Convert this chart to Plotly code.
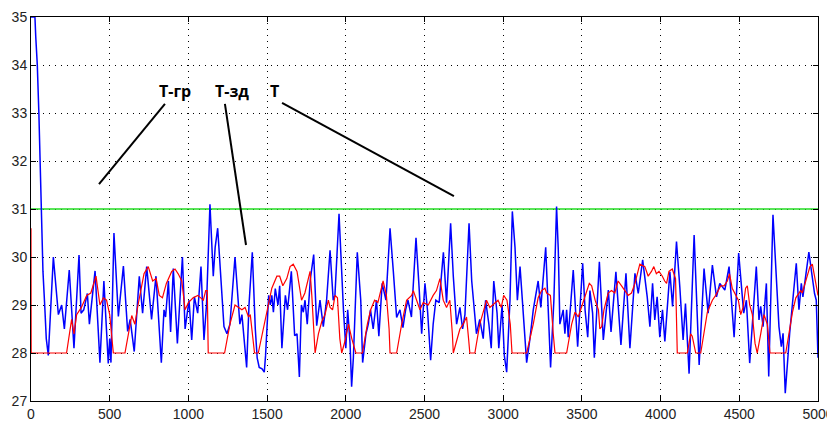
import plotly.graph_objects as go

# ---- data ----
blue_x = [0, 25, 30, 40, 50, 60, 66, 76, 87, 97, 110, 142, 174, 195, 212, 243, 273, 305, 318, 335,
          358, 371, 407, 438, 463, 478, 491, 500, 508, 527, 555, 587, 614, 630, 656, 688, 709, 735,
          766, 794, 828, 845, 855, 873, 887, 904, 930, 962, 979, 1004, 1021, 1038, 1059, 1080, 1099,
          1115, 1137, 1158, 1170, 1186, 1211, 1226, 1245, 1264, 1296, 1327, 1340, 1370, 1385, 1406,
          1425, 1437, 1450, 1468, 1482, 1490, 1510, 1520, 1530, 1540, 1552, 1569, 1580, 1594, 1616,
          1630, 1654, 1675, 1690, 1705, 1718, 1730, 1741, 1755, 1775, 1796, 1815, 1836, 1857, 1878,
          1900, 1920, 1931, 1957, 1985, 2000, 2012, 2027, 2037, 2048, 2073, 2095, 2107, 2128, 2143,
          2157, 2174, 2195, 2210, 2231, 2255, 2281, 2302, 2323, 2344, 2363, 2380, 2395, 2417, 2446,
          2465, 2482, 2503, 2520, 2539, 2555, 2572, 2593, 2620, 2640, 2666, 2683, 2704, 2725, 2742,
          2757, 2783, 2800, 2830, 2851, 2873, 2888, 2909, 2924, 2940, 2961, 2972, 2993, 3007, 3022,
          3043, 3058, 3075, 3090, 3107, 3124, 3149, 3170, 3191, 3222, 3239, 3270, 3290, 3301, 3322,
          3339, 3350, 3360, 3381, 3392, 3403, 3413, 3445, 3473, 3505, 3520, 3537, 3551, 3568, 3579,
          3611, 3636, 3668, 3685, 3716, 3748, 3780, 3805, 3837, 3858, 3886, 3915, 3932, 3949, 3963,
          3978, 3995, 4012, 4027, 4059, 4076, 4101, 4122, 4143, 4158, 4181, 4213, 4245, 4276, 4302,
          4329, 4355, 4376, 4408, 4435, 4467, 4496, 4528, 4545, 4566, 4608, 4625, 4636, 4651, 4672,
          4687, 4714, 4752, 4767, 4778, 4792, 4820, 4862, 4879, 4894, 4904, 4942, 4978, 4989, 5000]
blue_y = [35, 35, 34.6, 34.0, 33.0, 31.5, 30.6, 29.7, 29.0, 28.3, 27.95, 30.0, 28.8, 29.0, 28.5, 29.73,
          28.1, 30.04, 28.83, 28.9, 29.24, 28.6, 29.71, 27.8, 29.5, 28.4, 27.78, 28.3, 27.8, 30.5,
          28.76, 29.81, 28.45, 28.7, 28.03, 29.6, 28.83, 29.8, 28.7, 29.6, 27.8, 28.9, 28.75, 29.5,
          28.44, 29.76, 28.2, 30.0, 28.5, 29.1, 28.27, 29.17, 28.83, 29.8, 28.27, 29.0, 31.1, 29.6,
          30.2, 30.6, 29.4, 28.55, 28.4, 28.6, 30.0, 28.6, 28.8, 27.7, 29.0, 30.1, 28.5, 27.9, 27.7,
          27.67, 27.6, 27.94, 29.2, 29.0, 29.2, 28.85, 29.34, 29.0, 29.4, 28.1, 29.2, 28.9, 29.7,
          28.36, 28.4, 27.5, 29.0, 28.85, 29.1, 28.6, 29.55, 30.05, 28.57, 29.1, 28.55, 29.1, 30.14,
          29.1, 29.2, 30.9, 28.9, 28.1, 28.9, 28.2, 27.3, 27.9, 30.1, 29.1, 27.8, 28.4, 28.6, 28.9,
          28.5, 29.1, 28.35, 29.45, 29.1, 30.6, 29.7, 28.74, 28.9, 28.53, 28.9, 29.1, 28.75, 30.4,
          29.4, 28.4, 29.45, 28.85, 27.85, 28.6, 29.1, 29.05, 30.1, 29.05, 30.7, 29.6, 28.6, 28.95,
          28.5, 28.8, 30.7, 29.5, 28.4, 28.7, 28.3, 29.1, 28.6, 28.1, 29.5, 28.83, 28.1, 29.0, 27.95,
          27.6, 29.1, 30.95, 30.2, 29.1, 29.8, 28.9, 27.8, 28.3, 28.9, 29.5, 28.95, 30.2, 28.75, 27.7,
          29.1, 31.05, 30.15, 28.6, 28.9, 28.4, 28.9, 28.33, 29.73, 28.13, 29.87, 28.9, 28.33, 29.3,
          28.83, 27.9, 29.9, 28.27, 29.31, 28.44, 29.69, 28.17, 29.66, 28.1, 29.66, 29.24, 29.94,
          29.17, 28.55, 29.45, 28.69, 29.17, 28.33, 28.9, 28.24, 29.69, 28.97, 30.32, 29.38, 28.27,
          29.03, 27.57, 30.46, 27.75, 29.76, 28.83, 29.83, 29.17, 29.45, 29.31, 29.8, 28.33, 30.08,
          28.83, 29.1, 27.79, 29.8, 28.69, 28.97, 28.55, 29.45, 27.51, 30.88, 28.55, 28.13, 28.41,
          27.16, 28.41, 29.87, 28.9, 29.45, 29.17, 30.1, 29.24, 29.1, 27.9]

red_x = [0, 1, 226, 258, 273, 290, 320, 354, 380, 413, 438, 460, 480, 500, 523, 597, 640, 660, 680,
         718, 745, 773, 795, 815, 835, 860, 894, 915, 935, 958, 979, 1000, 1030, 1060, 1095, 1110,
         1120, 1126, 1230, 1264, 1296, 1318, 1340, 1360, 1382, 1393, 1405, 1420, 1444, 1470, 1498,
         1530, 1562, 1580, 1600, 1625, 1646, 1666, 1690, 1719, 1740, 1773, 1784, 1794, 1805, 1826,
         1847, 1868, 1889, 1900, 1916, 1932, 1947, 1962, 1974, 1995, 2017, 2038, 2053, 2064, 2106,
         2137, 2158, 2183, 2204, 2237, 2258, 2275, 2281, 2323, 2355, 2386, 2418, 2429, 2450, 2471,
         2492, 2524, 2555, 2576, 2598, 2619, 2640, 2661, 2677, 2683, 2704, 2725, 2746, 2767, 2780,
         2788, 2820, 2851, 2873, 2894, 2915, 2946, 2967, 2988, 3003, 3024, 3034, 3045, 3056, 3149,
         3170, 3191, 3222, 3244, 3265, 3276, 3300, 3308, 3318, 3329, 3403, 3435, 3456, 3477, 3498,
         3530, 3547, 3562, 3584, 3605, 3614, 3626, 3640, 3667, 3688, 3709, 3730, 3752, 3773, 3794,
         3815, 3837, 3868, 3900, 3921, 3942, 3957, 3973, 3990, 4011, 4026, 4038, 4053, 4074, 4095,
         4106, 4170, 4191, 4201, 4212, 4223, 4255, 4276, 4297, 4329, 4350, 4382, 4403, 4424, 4438,
         4455, 4477, 4494, 4509, 4524, 4540, 4551, 4566, 4583, 4600, 4614, 4636, 4657, 4678, 4695,
         4795, 4817, 4838, 4859, 4890, 4900, 4928, 4949, 4964, 4977, 5000]
red_y = [30.6, 28.0, 28.0, 28.7, 28.4, 28.8, 28.95, 29.2, 29.25, 29.6, 29.0, 29.15, 29.1, 28.8, 28.0,
         28.0, 28.78, 28.6, 29.0, 29.65, 29.8, 29.5, 29.55, 29.2, 29.15, 29.45, 29.7, 29.75, 29.65,
         29.5, 28.9, 29.05, 29.15, 29.2, 29.1, 29.3, 29.3, 28.0, 28.0, 28.6, 29.0, 28.95, 28.9,
         28.95, 28.75, 28.8, 28.4, 28.0, 28.0, 28.4, 28.8, 29.35, 29.6, 29.6, 29.4, 29.55, 29.8,
         29.85, 29.7, 29.1, 29.25, 29.7, 29.2, 28.6, 28.0, 28.4, 28.65, 28.8, 29.1, 28.95, 28.9,
         29.2, 29.15, 28.3, 28.0, 28.25, 28.6, 28.3, 28.1, 28.0, 28.0, 28.6, 28.9, 29.1, 29.05,
         29.5, 29.2, 28.5, 28.0, 28.0, 28.6, 29.1, 29.2, 29.3, 29.1, 28.9, 29.05, 29.0, 29.2, 29.3,
         29.55, 29.1, 28.95, 29.1, 28.4, 28.0, 28.25, 28.5, 28.6, 28.75, 28.3, 28.0, 28.0, 28.6,
         28.85, 29.1, 28.95, 29.05, 29.1, 28.95, 29.2, 29.1, 28.9, 28.6, 28.0, 28.0, 28.3, 28.6,
         29.15, 29.3, 29.35, 29.25, 29.2, 28.75, 28.4, 28.0, 28.0, 28.6, 28.85, 28.75, 28.95, 29.3,
         29.45, 29.4, 29.1, 28.9, 28.5, 28.55, 28.9, 29.25, 29.3, 29.25, 29.5, 29.4, 29.3, 29.2,
         29.25, 29.45, 29.85, 29.8, 29.6, 29.7, 29.8, 29.65, 29.7, 29.6, 29.5, 29.45, 29.7, 29.75,
         29.55, 28.0, 28.0, 28.4, 28.35, 28.15, 28.0, 28.0, 28.45, 28.85, 29.1, 29.2, 29.4, 29.4,
         29.5, 29.65, 29.35, 29.2, 29.1, 28.8, 28.95, 29.35, 29.4, 29.0, 28.8, 28.2, 28.0, 28.4,
         28.8, 28.6, 28.0, 28.0, 28.45, 28.85, 29.15, 29.3, 29.25, 29.55, 29.8, 29.85, 29.6, 29.2]

limit_x = [0, 5000]
limit_y = [31, 31]

x_ticks = [0, 500, 1000, 1500, 2000, 2500, 3000, 3500, 4000, 4500, 5000]
y_ticks = [27, 28, 29, 30, 31, 32, 33, 34, 35]

labels = ["T-гр", "T-зд", "T"]
label_x = [915, 1277, 1550]
label_y = [33.46, 33.46, 33.46]
# pointer lines: (x0, y0, x1, y1)
pointers = [(851, 33.19, 432, 31.52), (1232, 33.19, 1366, 30.25), (1595, 33.21, 2687, 31.27)]

fig = go.Figure()
fig.add_trace(go.Scatter(x=limit_x, y=limit_y, mode="lines",
                         line=dict(color="#22dd22", width=1.5), showlegend=False))
fig.add_trace(go.Scatter(x=blue_x, y=blue_y, mode="lines",
                         line=dict(color="#0000ff", width=1.5), showlegend=False))
fig.add_trace(go.Scatter(x=red_x, y=red_y, mode="lines",
                         line=dict(color="#ff0000", width=1.2), showlegend=False))

for (x0, y0, x1, y1) in pointers:
    fig.add_shape(type="line", x0=x0, y0=y0, x1=x1, y1=y1, xref="x", yref="y",
                  line=dict(color="black", width=2))
for t, x, y in zip(labels, label_x, label_y):
    fig.add_annotation(x=x, y=y, text="<b>" + t + "</b>", showarrow=False, xref="x", yref="y",
                       font=dict(family="Open Sans, Noto Sans, sans-serif", size=16, color="black"))

axis_common = dict(showline=True, linecolor="black", linewidth=1, mirror="ticks",
                   ticks="inside", ticklen=5, tickcolor="black", automargin=False,
                   showgrid=True, gridcolor="black", gridwidth=1, griddash="1px,5px",
                   zeroline=False,
                   tickfont=dict(family="Liberation Sans, Arial, sans-serif", size=14, color="#222222"))
fig.update_xaxes(range=[0, 5000], tickvals=x_ticks, **axis_common)
fig.update_yaxes(range=[27, 35], tickvals=y_ticks, **axis_common)

# the page body adds an 8px offset, so the figure is sized to fit the 835x421 window
fig.update_layout(width=827, height=413, margin=dict(l=23, r=17, t=9, b=20),
                  plot_bgcolor="white", paper_bgcolor="white", showlegend=False)

fig.write_html("out.html")
